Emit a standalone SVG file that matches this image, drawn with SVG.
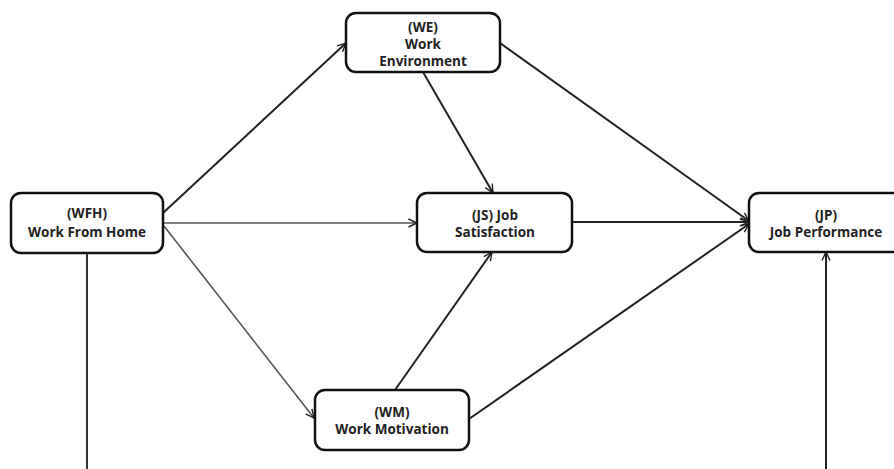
<svg xmlns="http://www.w3.org/2000/svg" width="894" height="469" viewBox="0 0 894 469">
<style>
.box{fill:#fff;stroke:#111;stroke-width:2.5}
.t{font-family:"Open Sans","Noto Sans","DejaVu Sans",sans-serif;font-weight:bold;font-size:13.5px;fill:#222;text-anchor:middle}
.c{stroke:#222;stroke-width:2;fill:none;marker-end:url(#arr)}
.g{stroke:#555;stroke-width:1.6}
</style>
<defs>
<marker id="arr" viewBox="0 0 10 10" refX="9.5" refY="5" markerWidth="10" markerHeight="10" markerUnits="userSpaceOnUse" orient="auto">
<path d="M1,1 L9.5,5 L1,9" fill="none" stroke="#222" stroke-width="1.4"/>
</marker>
</defs>
<rect width="894" height="469" fill="#fff"/>
<g id="connectors">
<line class="c" x1="163" y1="213" x2="346" y2="43"/>
<line class="c g" x1="163" y1="223" x2="417" y2="223"/>
<line class="c g" x1="164" y1="226" x2="314" y2="418"/>
<line class="c" x1="423" y1="72" x2="493" y2="193"/>
<line class="c" x1="500" y1="43" x2="749" y2="221"/>
<line class="c" x1="572" y1="222" x2="749" y2="222"/>
<line class="c" x1="395" y1="390" x2="492" y2="252"/>
<line class="c" x1="469" y1="419" x2="749" y2="224"/>
<line x1="87" y1="253" x2="87" y2="469" stroke="#333" stroke-width="2"/>
<line class="c" x1="826" y1="469" x2="826" y2="252"/>
</g>
<g id="WE">
<rect class="box" x="346" y="13" width="154" height="59" rx="10"/>
<text class="t" x="423" y="32">(WE)</text>
<text class="t" x="423" y="49">Work</text>
<text class="t" x="423" y="66">Environment</text>
</g>
<g id="WFH">
<rect class="box" x="11" y="193" width="152" height="60" rx="10"/>
<text class="t" x="87" y="218">(WFH)</text>
<text class="t" x="87" y="237">Work From Home</text>
</g>
<g id="JS">
<rect class="box" x="417" y="193" width="155" height="59" rx="10"/>
<text class="t" x="495" y="220">(JS) Job</text>
<text class="t" x="495" y="237">Satisfaction</text>
</g>
<g id="JP">
<rect class="box" x="749" y="193" width="154" height="59" rx="10"/>
<text class="t" x="826" y="220">(JP)</text>
<text class="t" x="826" y="237">Job Performance</text>
</g>
<g id="WM">
<rect class="box" x="315" y="390" width="154" height="60" rx="10"/>
<text class="t" x="392" y="417">(WM)</text>
<text class="t" x="392" y="434">Work Motivation</text>
</g>
</svg>
